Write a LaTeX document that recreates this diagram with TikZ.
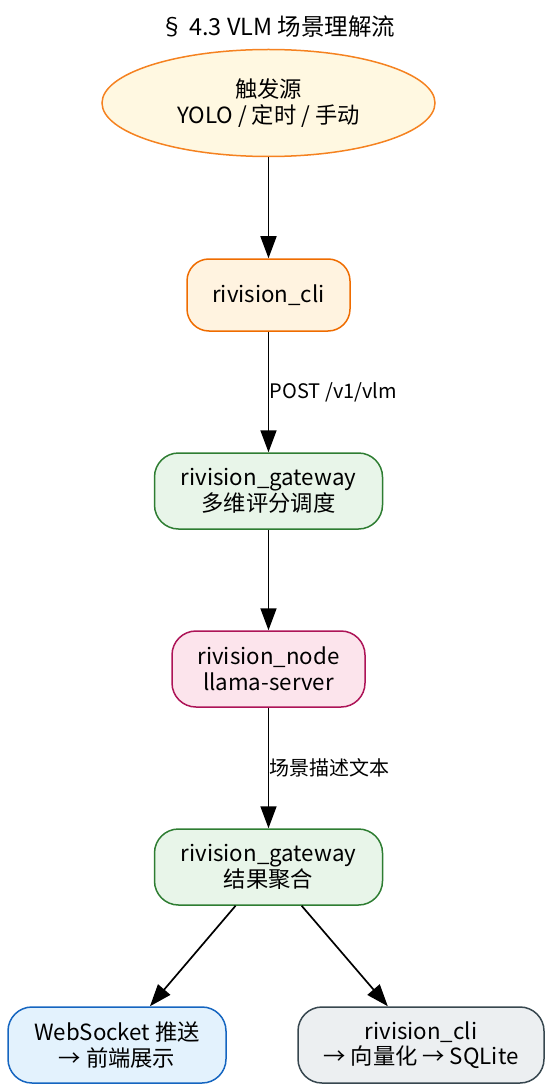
\documentclass[tikz,border=0pt]{standalone}
\usepackage{fontspec}
\setmainfont{Noto Sans CJK SC}
\usepackage{tikz}
\usetikzlibrary{shapes.geometric}
\usetikzlibrary{arrows.meta}
\definecolor{srcfill}{HTML}{FFF8E1}
\definecolor{srcline}{HTML}{F58220}
\definecolor{clifill}{HTML}{FFF3E0}
\definecolor{cliline}{HTML}{EF6C00}
\definecolor{gwfill}{HTML}{E8F5E9}
\definecolor{gwline}{HTML}{2E7D32}
\definecolor{vlmfill}{HTML}{FCE4EC}
\definecolor{vlmline}{HTML}{AD1457}
\definecolor{wsfill}{HTML}{E3F2FD}
\definecolor{wsline}{HTML}{1565C0}
\definecolor{dbfill}{HTML}{ECEFF1}
\definecolor{dbline}{HTML}{37474F}
\newcommand{\nodefont}{\fontsize{22.3}{25.5}\selectfont}
\newcommand{\titlefont}{\fontsize{23.5}{27}\selectfont}
\newcommand{\lblfont}{\fontsize{20}{24}\selectfont}
\tikzstyle{source} = [ellipse, text centered, align=center, draw=srcline, fill=srcfill, line width=1.5pt, minimum width=333pt, minimum height=107pt, font=\nodefont]
\tikzstyle{box} = [rectangle, rounded corners=24pt, text centered, align=center, line width=1.5pt, minimum height=76pt, font=\nodefont]
\tikzstyle{clibox} = [box, draw=cliline, fill=clifill]
\tikzstyle{gwbox} = [box, draw=gwline, fill=gwfill, minimum width=228pt]
\tikzstyle{vlmbox} = [box, draw=vlmline, fill=vlmfill]
\tikzstyle{wsbox} = [box, draw=wsline, fill=wsfill]
\tikzstyle{dbbox} = [box, draw=dbline, fill=dbfill]
\tikzstyle{arrow} = [line width=1.7pt, -{Triangle[length=22pt,width=16pt]}]
\tikzstyle{lbl} = [right, inner sep=0.5pt, font=\lblfont]

\begin{document}
\begin{tikzpicture}[x=1pt, y=1pt, node distance=192pt]
\useasboundingbox (0,0) rectangle (552,-1091);

\node (title) at (278,-27) {\titlefont § 4.3 VLM 场景理解流};
\node (src) [source] at (268.5,-103) {触发源\\YOLO / 定时 / 手动};
\node (cli) [clibox, below of=src, minimum width=163pt, minimum height=72pt, rounded corners=22pt] {rivision\_cli};
\node (gwa) [gwbox, below of=cli, yshift=-4pt] {rivision\_gateway\\多维评分调度};
\node (vlm) [vlmbox, below of=gwa, yshift=14pt, minimum width=193pt] {rivision\_node\\llama-server};
\node (gwb) [gwbox, below of=vlm, yshift=-6pt] {rivision\_gateway\\结果聚合};
\node (ws) [wsbox, below of=gwb, yshift=14pt, xshift=-151.5pt, minimum width=218pt] {WebSocket 推送\\→ 前端展示};
\node (db) [dbbox, below of=gwb, yshift=14pt, xshift=152.5pt, minimum width=246pt] {rivision\_cli\\→ 向量化 → SQLite};

\draw [arrow] (src) -- (cli);
\draw [arrow] (cli) -- node (lpost) [lbl] {POST /v1/vlm} (gwa);
\draw [arrow] (gwa) -- (vlm);
\draw [arrow] (vlm) -- node (ltext) [lbl] {场景描述文本} (gwb);
\draw [arrow] (gwb) -- (ws);
\draw [arrow] (gwb) -- (db);

\end{tikzpicture}
\end{document}
